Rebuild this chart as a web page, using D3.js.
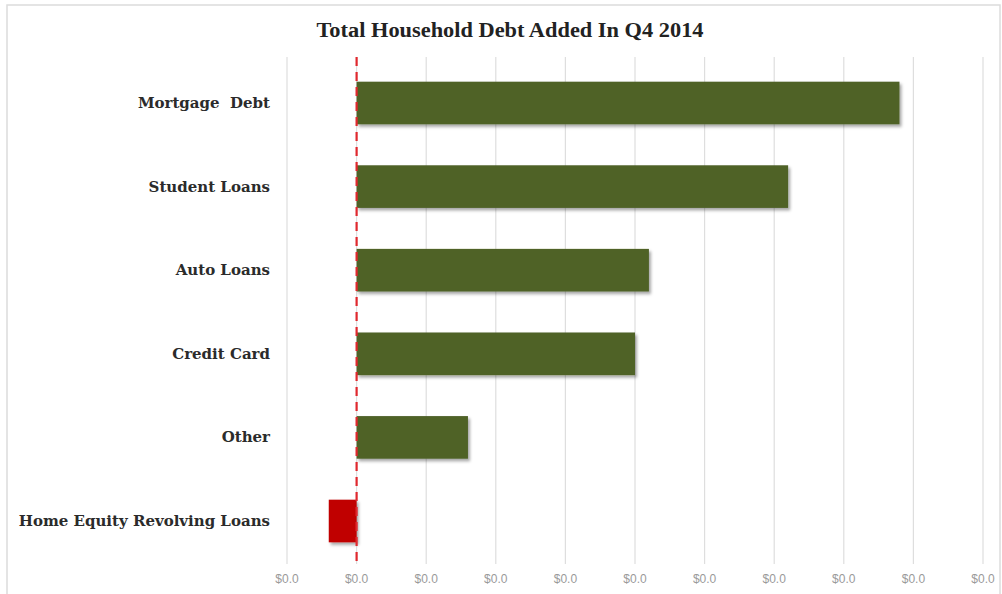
<!DOCTYPE html>
<html>
<head>
<meta charset="utf-8">
<script src="https://cdn.jsdelivr.net/npm/d3@7"></script>
<style>
  html, body { margin: 0; padding: 0; background: #fff; }
  svg { display: block; }
</style>
</head>
<body>
<svg id="chart" width="1002" height="594"></svg>
<script>
const categories = ["Mortgage  Debt", "Student Loans", "Auto Loans", "Credit Card", "Other", "Home Equity Revolving Loans"];
const values = [39, 31, 21, 20, 8, -2];
const tickValues = [-5, 0, 5, 10, 15, 20, 25, 30, 35, 40, 45];
const tickLabels = ["$0.0", "$0.0", "$0.0", "$0.0", "$0.0", "$0.0", "$0.0", "$0.0", "$0.0", "$0.0", "$0.0"];
const titleText = "Total Household Debt Added In Q4 2014";

const svg = d3.select("#chart");
const W = 1002, H = 594;

const defs = svg.append("defs");
const f = defs.append("filter").attr("id", "shadow").attr("x", "-10%").attr("y", "-20%").attr("width", "130%").attr("height", "160%");
f.append("feDropShadow").attr("dx", 2).attr("dy", 2.5).attr("stdDeviation", 1.8).attr("flood-color", "#000").attr("flood-opacity", 0.35);

// outer frame
svg.append("rect").attr("x", 7).attr("y", 5).attr("width", W - 9).attr("height", H + 10)
  .attr("fill", "#fff").attr("stroke", "#dcdcdc").attr("stroke-width", 1.5);

const x = d3.scaleLinear().domain([-5, 45]).range([287, 983]);
const y = d3.scaleBand().domain(categories).range([61.2, 562.8]).paddingInner(0.49).paddingOuter(0.245);

// gridlines
svg.append("g").selectAll("line").data(tickValues).join("line")
  .attr("x1", d => x(d)).attr("x2", d => x(d))
  .attr("y1", 57).attr("y2", 564)
  .attr("stroke", "#dedede").attr("stroke-width", 1.2);

// tick labels
svg.append("g").selectAll("text").data(tickValues).join("text")
  .attr("x", d => x(d)).attr("y", 583)
  .attr("text-anchor", "middle")
  .attr("font-family", "'Liberation Sans Narrow', 'Liberation Sans', sans-serif")
  .attr("font-size", 12)
  .attr("fill", "#9a9a9a")
  .text((d, i) => tickLabels[i]);

// bars
svg.append("g").selectAll("rect").data(categories).join("rect")
  .attr("x", (d, i) => x(Math.min(0, values[i])))
  .attr("y", d => y(d))
  .attr("width", (d, i) => Math.abs(x(values[i]) - x(0)))
  .attr("height", y.bandwidth())
  .attr("fill", (d, i) => values[i] < 0 ? "#C00000" : "#4F6228")
  .attr("filter", "url(#shadow)");

// zero dashed line
svg.append("line")
  .attr("x1", x(0)).attr("x2", x(0))
  .attr("y1", 57).attr("y2", 566)
  .attr("stroke", "#E0282E").attr("stroke-width", 2.2)
  .attr("stroke-dasharray", "9,6");

// category labels
svg.append("g").selectAll("text").data(categories).join("text")
  .attr("x", 270)
  .attr("y", d => y(d) + y.bandwidth() / 2 + 5)
  .attr("text-anchor", "end")
  .attr("font-family", "'DejaVu Serif', 'Liberation Serif', serif")
  .attr("font-weight", "bold")
  .attr("font-size", 15)
  .attr("fill", "#2b2b2b")
  .attr("xml:space", "preserve")
  .text(d => d);

// title
svg.append("text")
  .attr("x", 510).attr("y", 37)
  .attr("text-anchor", "middle")
  .attr("font-family", "'Liberation Serif', serif")
  .attr("font-weight", "bold")
  .attr("font-size", 20)
  .attr("textLength", 387)
  .attr("lengthAdjust", "spacingAndGlyphs")
  .attr("fill", "#222")
  .text(titleText);
</script>
</body>
</html>
